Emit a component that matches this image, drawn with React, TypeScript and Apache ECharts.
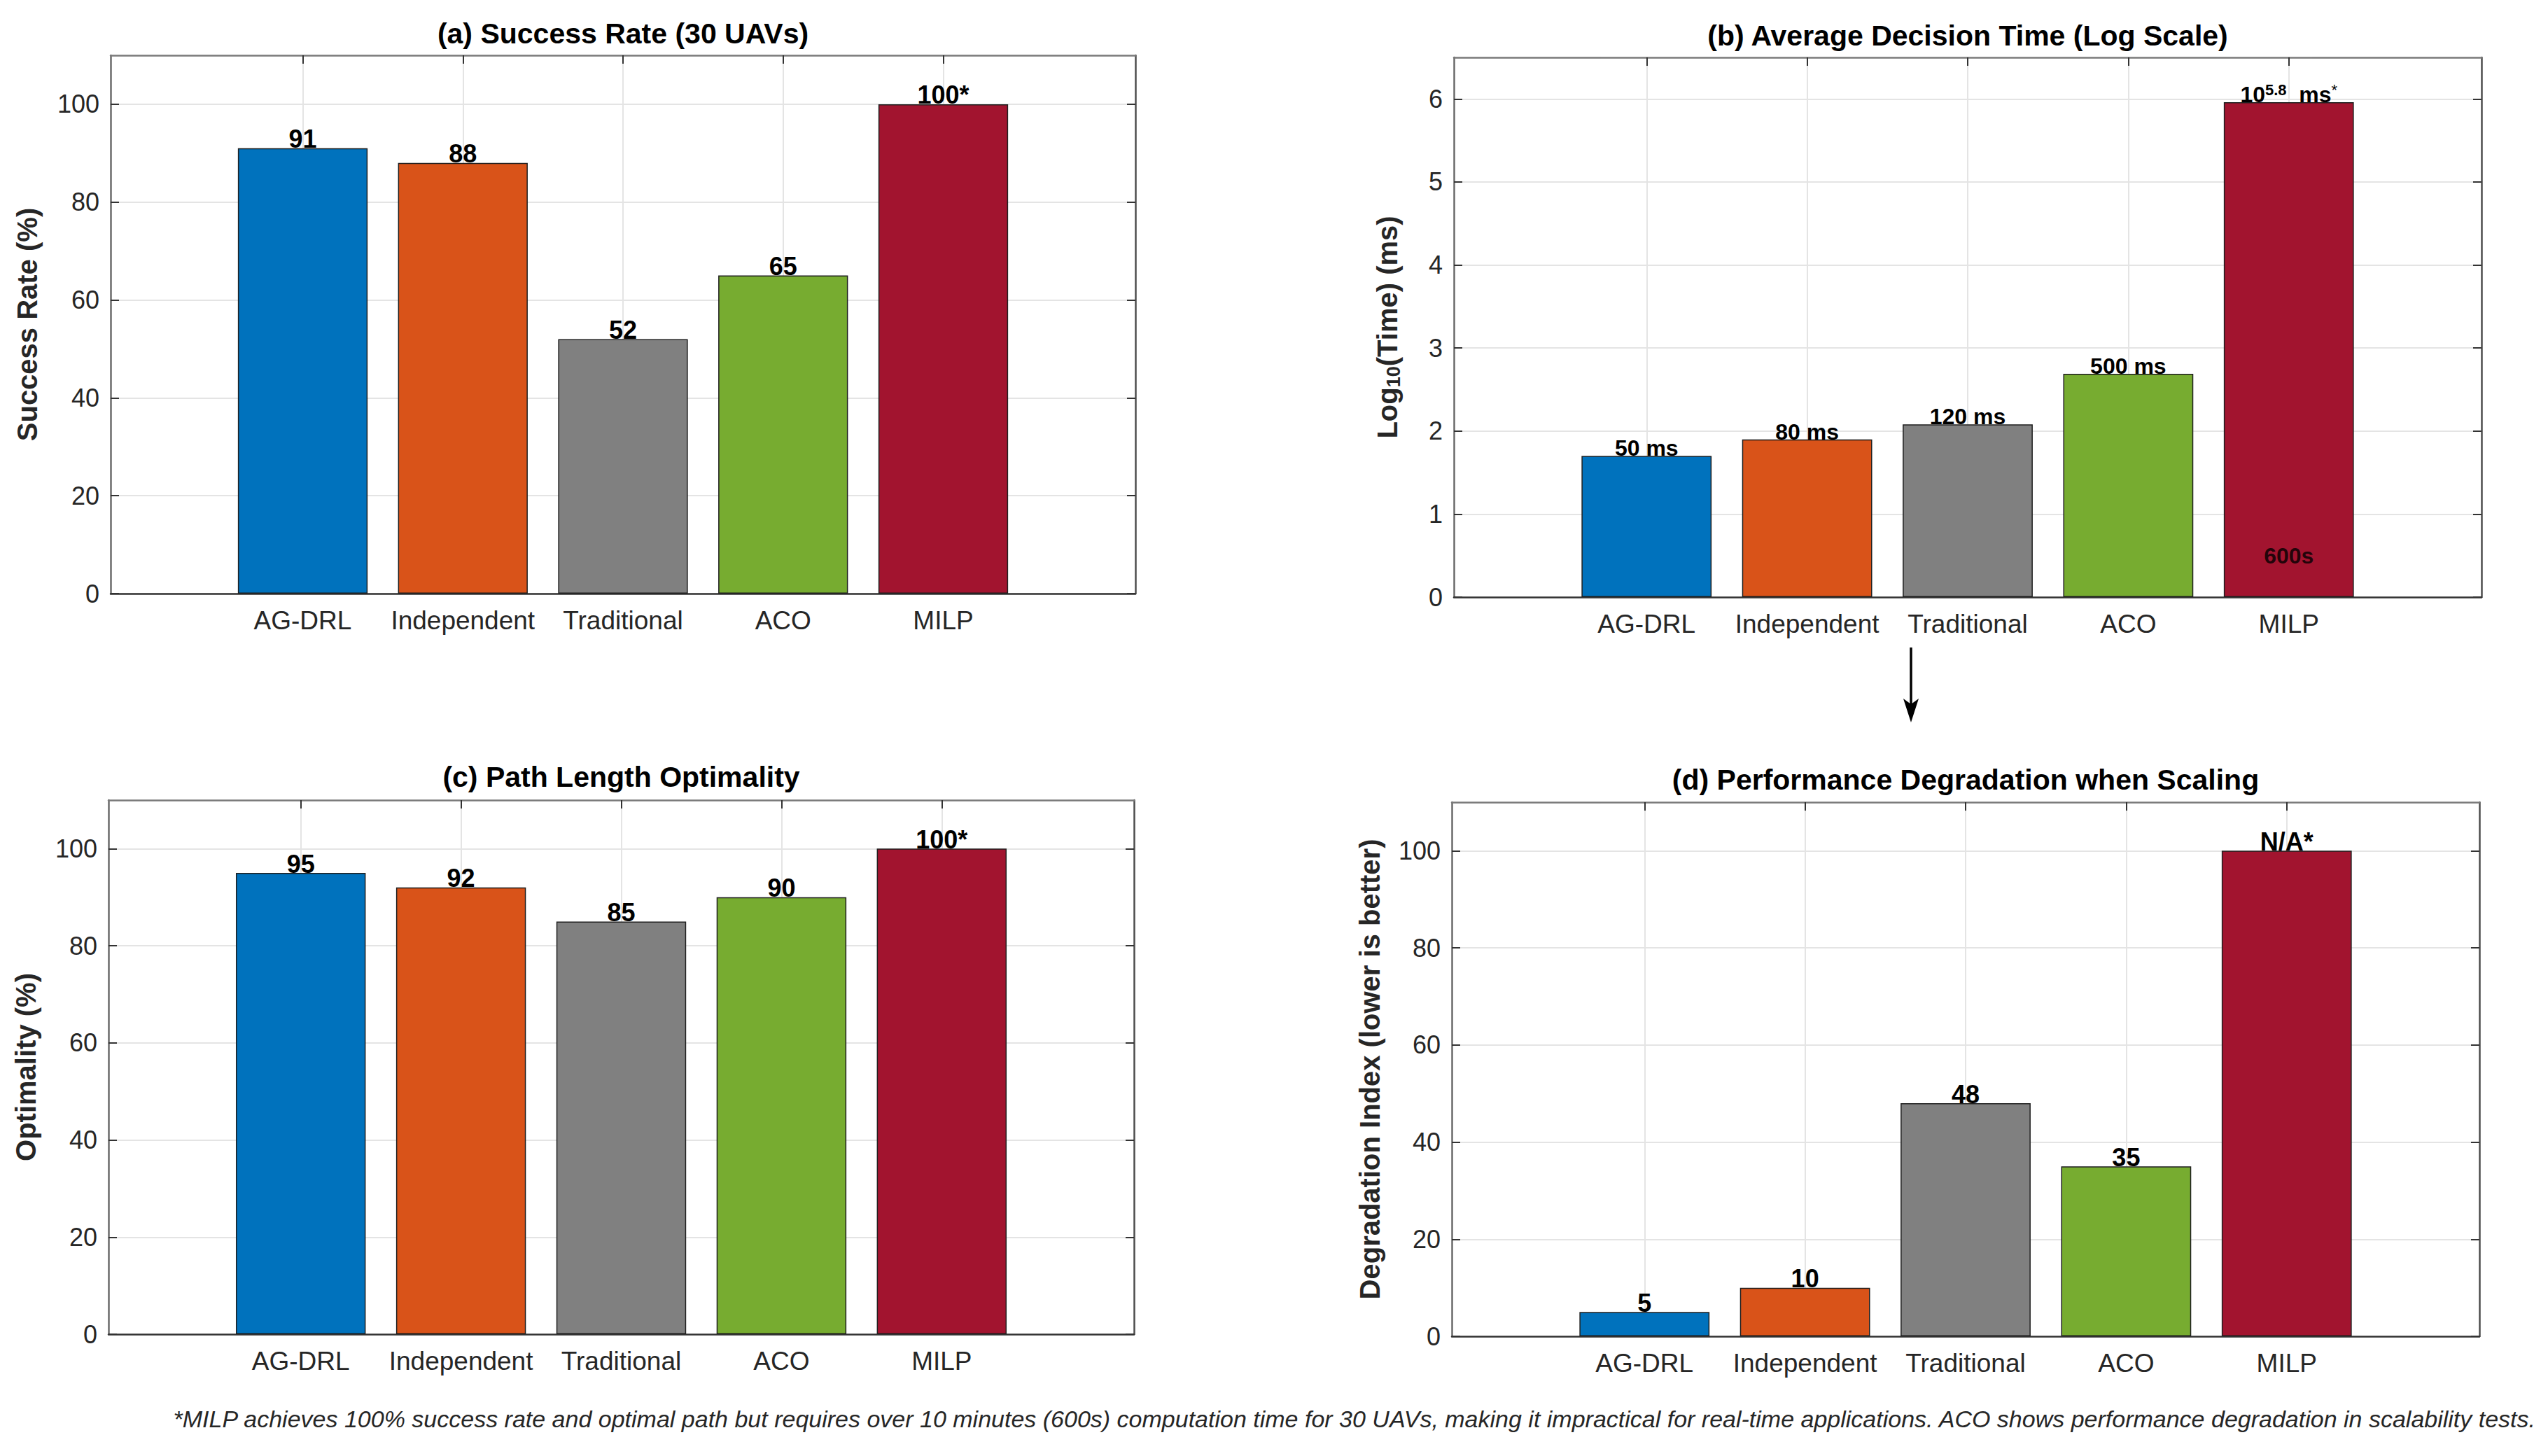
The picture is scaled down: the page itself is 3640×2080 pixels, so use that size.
import React, { useEffect, useRef } from 'react';
import * as echarts from 'echarts';

// ---------- data ----------
const categories = ['AG-DRL', 'Independent', 'Traditional', 'ACO', 'MILP'];
const categoryPositions = [1, 2, 3, 4, 5];
const barColors = ['#0072BD', '#D95319', '#808080', '#77AC30', '#A2142F'];

const successRate = [91, 88, 52, 65, 100];
const successLabels = ['91', '88', '52', '65', '100*'];

const logDecisionTime = [1.7, 1.9, 2.08, 2.69, 5.96];
const decisionLabels = ['50 ms', '80 ms', '120 ms', '500 ms', '{n|10}{sup|5.8}{n|  ms}{star|*}'];
const milpNotePoint = [5, 0.5];
const milpNoteText = '600s';

const optimality = [95, 92, 85, 90, 100];
const optimalityLabels = ['95', '92', '85', '90', '100*'];

const degradation = [5, 10, 48, 35, 100];
const degradationLabels = ['5', '10', '48', '35', 'N/A*'];

const pctTicks = [0, 20, 40, 60, 80, 100];
const logTicks = [0, 1, 2, 3, 4, 5, 6];

const footnote =
  '*MILP achieves 100% success rate and optimal path but requires over 10 minutes (600s) computation time for 30 UAVs, making it impractical for real-time applications. ACO shows performance degradation in scalability tests.';

const panelData = [
  { title: '(a) Success Rate (30 UAVs)', yName: '{m|Success Rate (%)}', values: successRate, labels: successLabels, ticks: pctTicks, yMax: 110 },
  { title: '(b) Average Decision Time (Log Scale)', yName: '{m|Log}{s|10}{m|(Time) (ms)}', values: logDecisionTime, labels: decisionLabels, ticks: logTicks, yMax: 6.5 },
  { title: '(c) Path Length Optimality', yName: '{m|Optimality (%)}', values: optimality, labels: optimalityLabels, ticks: pctTicks, yMax: 110 },
  { title: '(d) Performance Degradation when Scaling', yName: '{m|Degradation Index (lower is better)}', values: degradation, labels: degradationLabels, ticks: pctTicks, yMax: 110 },
];

// ---------- layout / style ----------
const panelLayout = [
  { left: 158, top: 79, width: 1464, height: 769, titleY: 48, yLabelX: 40, labelSize: 36 },
  { left: 2077, top: 82, width: 1468, height: 771, titleY: 51, yLabelX: 1983, labelSize: 32 },
  { left: 155, top: 1143, width: 1465, height: 763, titleY: 1110, yLabelX: 38, labelSize: 36 },
  { left: 2074, top: 1146, width: 1468, height: 763, titleY: 1114, yLabelX: 1958, labelSize: 36 },
];

const FONT = '"Liberation Sans", Arial, Helvetica, sans-serif';
const AXIS_COLOR = '#4d4d4d';
const TEXT_COLOR = '#262626';
const GRID_COLOR = '#e4e4e4';

function buildOption() {
  const grid: any[] = [];
  const xAxis: any[] = [];
  const yAxis: any[] = [];
  const series: any[] = [];
  const graphic: any[] = [];

  panelData.forEach((p, i) => {
    const L = panelLayout[i];
    grid.push({ left: L.left, top: L.top, width: L.width, height: L.height, containLabel: false });

    const lineStyle = { color: AXIS_COLOR, width: 2 };
    const tickStyle = { color: '#333', width: 2 };

    xAxis.push({
      type: 'value', gridIndex: i, min: -0.2, max: 6.2, position: 'bottom',
      axisLine: { show: true, onZero: false, lineStyle: { color: '#333', width: 2.5 } },
      axisTick: { show: true, inside: true, length: 12, customValues: categoryPositions, lineStyle: tickStyle },
      axisLabel: {
        show: true, customValues: categoryPositions, margin: 20,
        formatter: (v: number) => categories[Math.round(v) - 1] ?? '',
        fontSize: 37, color: TEXT_COLOR, fontFamily: FONT,
      },
      splitLine: { show: true, lineStyle: { color: GRID_COLOR, width: 2 } },
    });
    xAxis.push({
      type: 'value', gridIndex: i, min: -0.2, max: 6.2, position: 'top',
      axisLine: { show: true, onZero: false, lineStyle: { color: '#7a7a7a', width: 2.5 } },
      axisTick: { show: true, inside: true, length: 12, customValues: categoryPositions, lineStyle: tickStyle },
      axisLabel: { show: false },
      splitLine: { show: false },
    });
    yAxis.push({
      type: 'value', gridIndex: i, min: 0, max: p.yMax, position: 'left',
      axisLine: { show: true, onZero: false, lineStyle: { color: '#6a6a6a', width: 2.5 } },
      axisTick: { show: true, inside: true, length: 12, customValues: p.ticks, lineStyle: tickStyle },
      axisLabel: { show: true, customValues: p.ticks, margin: 16, fontSize: 36, color: TEXT_COLOR, fontFamily: FONT },
      splitLine: { show: true, lineStyle: { color: GRID_COLOR, width: 2 } },
    });
    yAxis.push({
      type: 'value', gridIndex: i, min: 0, max: p.yMax, position: 'right',
      axisLine: { show: true, onZero: false, lineStyle: { color: '#4d4d4d', width: 2.5 } },
      axisTick: { show: true, inside: true, length: 12, customValues: p.ticks, lineStyle: tickStyle },
      axisLabel: { show: false },
      splitLine: { show: false },
    });

    series.push({
      type: 'bar', name: p.title, xAxisIndex: 2 * i, yAxisIndex: 2 * i,
      barWidth: '81%',
      data: p.values.map((v, k) => ({ value: [categoryPositions[k], v], itemStyle: { color: barColors[k] } })),
      itemStyle: { borderColor: '#1f1f1f', borderWidth: 1.5 },
      label: {
        show: true, position: 'top', distance: -5,
        formatter: (d: any) => p.labels[d.dataIndex],
        fontSize: L.labelSize, fontWeight: 'bold', color: '#000', fontFamily: FONT,
        rich: {
          n: { fontSize: L.labelSize, fontWeight: 'bold', color: '#000', fontFamily: FONT, lineHeight: 34, verticalAlign: 'bottom' },
          sup: { fontSize: 22, fontWeight: 'bold', color: '#000', fontFamily: FONT, lineHeight: 6, verticalAlign: 'top' },
          star: { fontSize: 22, fontWeight: 'normal', color: '#000', fontFamily: FONT, lineHeight: 6, verticalAlign: 'top' },
        },
      },
      z: 3,
    });

    graphic.push({
      type: 'text', x: L.left + L.width / 2, y: L.titleY,
      style: { text: p.title, align: 'center', verticalAlign: 'middle', fontSize: 41, fontWeight: 'bold', fontFamily: FONT, fill: '#000' },
    });
    graphic.push({
      type: 'text', x: L.yLabelX, y: L.top + L.height / 2, rotation: Math.PI / 2,
      style: {
        text: p.yName, align: 'center', verticalAlign: 'middle', fill: TEXT_COLOR,
        rich: {
          m: { fontSize: 40, fontWeight: 'bold', fontFamily: FONT, fill: TEXT_COLOR, lineHeight: 42, verticalAlign: 'top' },
          s: { fontSize: 27, fontWeight: 'bold', fontFamily: FONT, fill: TEXT_COLOR, lineHeight: 14, verticalAlign: 'bottom' },
        },
      },
    });
  });

  // "600s" note inside the MILP bar of panel (b)
  series.push({
    type: 'scatter', xAxisIndex: 2, yAxisIndex: 2, symbolSize: 0,
    data: [milpNotePoint],
    label: { show: true, position: 'inside', formatter: milpNoteText, fontSize: 32, fontWeight: 'bold', color: '#000', fontFamily: FONT },
    z: 5,
  });

  // arrow between (b) and (d)
  graphic.push({ type: 'line', shape: { x1: 2730, y1: 925, x2: 2730, y2: 1012 }, style: { stroke: '#000', lineWidth: 3.5 } });
  graphic.push({ type: 'polygon', shape: { points: [[2730, 1032], [2719, 998], [2730, 1006], [2741, 998]] }, style: { fill: '#000' } });

  // footnote
  graphic.push({
    type: 'text', x: 3622, y: 2027,
    style: { text: footnote, align: 'right', verticalAlign: 'middle', fontSize: 34, fontStyle: 'italic', fontFamily: FONT, fill: '#262626' },
  });

  return {
    animation: false,
    backgroundColor: '#ffffff',
    grid, xAxis, yAxis, series, graphic,
  };
}

export default function App() {
  const ref = useRef<HTMLDivElement>(null);
  useEffect(() => {
    if (!ref.current) return;
    const chart = echarts.init(ref.current, undefined, { renderer: 'svg' });
    chart.setOption(buildOption() as any);
    return () => chart.dispose();
  }, []);
  return <div ref={ref} style={{ position: 'fixed', left: 0, top: 0, width: 3640, height: 2080, background: '#fff' }} />;
}
